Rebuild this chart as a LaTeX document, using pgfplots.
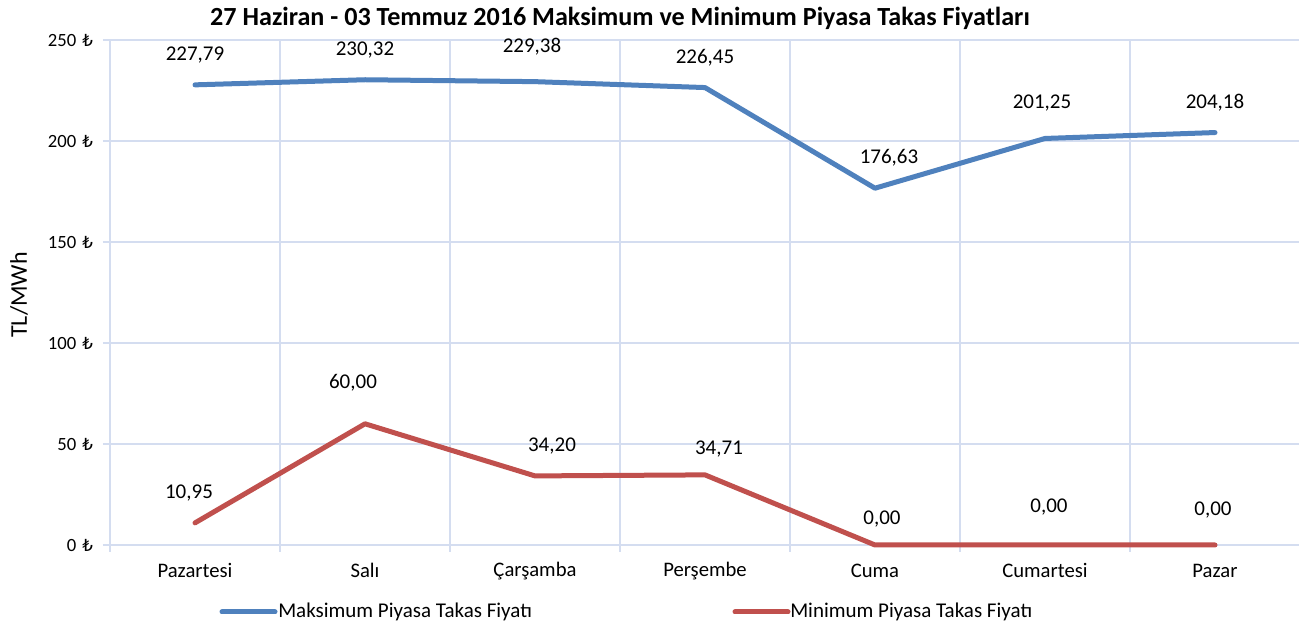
\documentclass[border=0pt]{standalone}
\usepackage{pgfplots}
\pgfplotsset{compat=1.18}
\usepackage{fontspec}
\setmainfont{Carlito}
\newfontfamily\lirafont{DejaVu Sans}
\newcommand{\lira}{{\lirafont\fontsize{12.5}{14}\selectfont ₺}}
\definecolor{gridc}{RGB}{212,221,240}
\definecolor{maxc}{RGB}{79,129,189}
\definecolor{minc}{RGB}{192,80,77}
\begin{document}
\begin{tikzpicture}[x=0.75pt,y=0.75pt]
\begin{axis}[
  at={(0,0)}, anchor=south west,
  width=892.5pt, height=378.75pt, scale only axis,
  xmin=-0.5, xmax=6.5, ymin=0, ymax=250,
  axis lines=left,
  axis line style={-, draw=gridc, line width=1.1pt},
  xtick={0,...,6},
  xticklabels={Pazartesi,Salı,Çarşamba,Perşembe,Cuma,Cumartesi,Pazar},
  minor xtick={-0.5,0.5,...,6.5},
  xminorgrids=true, xmajorgrids=false,
  ytick={0,50,...,250},
  yticklabels={0\hspace{4.5pt}\lira,50\hspace{4.5pt}\lira,100\hspace{4.5pt}\lira,150\hspace{4.5pt}\lira,200\hspace{4.5pt}\lira,250\hspace{4.5pt}\lira},
  ymajorgrids=true,
  grid style={draw=gridc, line width=1.1pt},
  minor grid style={draw=gridc, line width=1.1pt},
  tick align=outside,
  major tick length=5.25pt, minor tick length=5.25pt,
  tick style={draw=gridc, line width=1.1pt},
  major x tick style={draw=none},
  xticklabel style={font=\fontsize{15.5}{18}\selectfont, anchor=center, yshift=-14pt},
  yticklabel style={font=\fontsize{14}{16}\selectfont, anchor=east, xshift=-4pt},
  clip=false,
  nodes near coords,
  point meta=explicit symbolic,
  every node near coord/.append style={anchor=center, font=\fontsize{15.75}{18}\selectfont, text=black, xshift=\dx*0.75pt, yshift=\dy*0.75pt},
  visualization depends on={value \thisrow{dx} \as \dx},
  visualization depends on={value \thisrow{dy} \as \dy},
]
\addplot[color=maxc, line width=3.75pt, line cap=round, line join=round, mark=none]
  table[x=x, y=y, meta=lab] {
x y lab dx dy
0 227.79 227,79 0 30
1 230.32 230,32 0 30
2 229.38 229,38 -3 35
3 226.45 226,45 0 30
4 176.63 176,63 14 30
5 201.25 201,25 -3 35
6 204.18 204,18 0 30
};
\addplot[color=minc, line width=3.75pt, line cap=round, line join=round, mark=none]
  table[x=x, y=y, meta=lab] {
x y lab dx dy
0 10.95 10,95 -6 30
1 60.00 60,00 -12 41
2 34.20 34,20 17 30
3 34.71 34,71 14 26
4 0.00 0,00 7 26
5 0.00 0,00 4 38
6 0.00 0,00 -2 35
};
\end{axis}
\node[font=\bfseries\fontsize{19.6}{23}\selectfont] at (510,527) {27 Haziran - 03 Temmuz 2016 Maksimum ve Minimum Piyasa Takas Fiyatları};
\node[rotate=90, font=\fontsize{18}{21}\selectfont] at (-91,250) {TL/MWh};
\draw[maxc, line width=3.75pt, line cap=round] (112,-67) -- (165,-67);
\node[anchor=west, inner sep=0pt, font=\fontsize{15.75}{18}\selectfont] at (168,-67) {Maksimum Piyasa Takas Fiyatı};
\draw[minc, line width=3.75pt, line cap=round] (625,-67) -- (678,-67);
\node[anchor=west, inner sep=0pt, font=\fontsize{15.75}{18}\selectfont] at (680,-67) {Minimum Piyasa Takas Fiyatı};
\pgfresetboundingbox
\path[use as bounding box] (-110,-78) rectangle (1189,545);
\end{tikzpicture}
\end{document}
